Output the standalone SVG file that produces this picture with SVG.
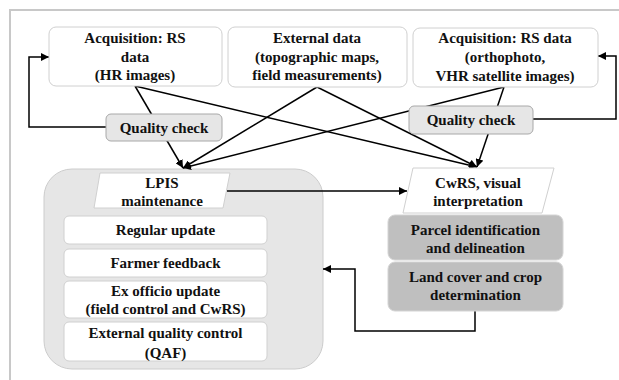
<svg xmlns="http://www.w3.org/2000/svg" width="619" height="380" viewBox="0 0 619 380">
<defs>
<marker id="ah" viewBox="0 0 10 10" refX="10" refY="5" markerWidth="8" markerHeight="8" markerUnits="userSpaceOnUse" orient="auto">
<path d="M0,0 L10,5 L0,10 z" fill="#000"/>
</marker>
</defs>
<style>
text{font-family:"Liberation Serif","Times New Roman",serif;font-weight:bold;font-size:15px;fill:#111;text-anchor:middle}
.box{fill:#fff;stroke:#d0d0d0;stroke-width:1}
.qc{fill:#e6e6e6;stroke:#a8a8a8;stroke-width:1}
.dark{fill:#bfbfbf;stroke:#d4d4d4;stroke-width:1}
.cn{fill:none;stroke:#000;stroke-width:1.5}
.ar{marker-end:url(#ah)}
</style>
<rect width="619" height="380" fill="#fff"/>
<path d="M10,380 V10 H619" fill="none" stroke="#c8c8c8" stroke-width="2"/>

<g id="lpis-container">
<rect x="44" y="169" width="279" height="200" rx="28" fill="#e6e6e6" stroke="#cccccc" stroke-width="1"/>
</g>

<g id="connectors">
<line class="cn ar" x1="135" y1="86" x2="183" y2="168"/>
<line class="cn ar" x1="135" y1="86" x2="477" y2="167"/>
<line class="cn ar" x1="317" y1="87" x2="183" y2="168"/>
<line class="cn ar" x1="317" y1="87" x2="477" y2="167"/>
<line class="cn ar" x1="504" y1="87" x2="183" y2="168"/>
<line class="cn ar" x1="504" y1="87" x2="477" y2="167"/>
<path class="cn ar" d="M106,127 H29 V57 H49"/>
<path class="cn ar" d="M533,119 H616 V56 H598"/>
<path class="cn ar" d="M227,191 H407"/>
<path class="cn ar" d="M475,311 V331 H355 V269 H323"/>
</g>

<g id="acq-hr">
<rect class="box" x="49" y="27" width="173" height="59" rx="7"/>
<text x="135" y="43">Acquisition: RS</text>
<text x="135" y="62">data</text>
<text x="135" y="80">(HR images)</text>
</g>
<g id="external">
<rect class="box" x="228" y="27" width="179" height="60" rx="7"/>
<text x="317" y="43">External data</text>
<text x="317" y="62">(topographic maps,</text>
<text x="317" y="80">field measurements)</text>
</g>
<g id="acq-vhr">
<rect class="box" x="413" y="28" width="185" height="59" rx="7"/>
<text x="505" y="43">Acquisition: RS data</text>
<text x="505" y="62">(orthophoto,</text>
<text x="505" y="81">VHR satellite images)</text>
</g>
<g id="qc-left">
<rect class="qc" x="106" y="114" width="116" height="27" rx="5"/>
<text x="164" y="133">Quality check</text>
</g>
<g id="qc-right">
<rect class="qc" x="409" y="106" width="124" height="28" rx="5"/>
<text x="471" y="125">Quality check</text>
</g>
<g id="lpis">
<polygon class="box" points="100,173 230,173 223,208 94,208"/>
<text x="162" y="188">LPIS</text>
<text x="162" y="206">maintenance</text>
</g>
<g id="regular">
<rect class="box" x="64" y="216" width="203" height="28" rx="5"/>
<text x="165.5" y="235">Regular update</text>
</g>
<g id="farmer">
<rect class="box" x="64" y="249" width="203" height="28" rx="5"/>
<text x="165.5" y="268">Farmer feedback</text>
</g>
<g id="exofficio">
<rect class="box" x="64" y="281" width="203" height="37" rx="5"/>
<text x="165.5" y="296">Ex officio update</text>
<text x="165.5" y="314">(field control and CwRS)</text>
</g>
<g id="eqc">
<rect class="box" x="64" y="322" width="203" height="39" rx="5"/>
<text x="165.5" y="338">External quality control</text>
<text x="165.5" y="358">(QAF)</text>
</g>
<g id="cwrs">
<polygon class="box" points="413,168 554,168 542,213 403,213"/>
<text x="478" y="188">CwRS, visual</text>
<text x="478" y="206">interpretation</text>
</g>
<g id="parcel">
<rect class="dark" x="388" y="215" width="175" height="45" rx="7"/>
<text x="475.5" y="235">Parcel identification</text>
<text x="475.5" y="253">and delineation</text>
</g>
<g id="landcover">
<rect class="dark" x="388" y="262" width="175" height="49" rx="7"/>
<text x="475.5" y="282">Land cover and crop</text>
<text x="475.5" y="300">determination</text>
</g>
</svg>
